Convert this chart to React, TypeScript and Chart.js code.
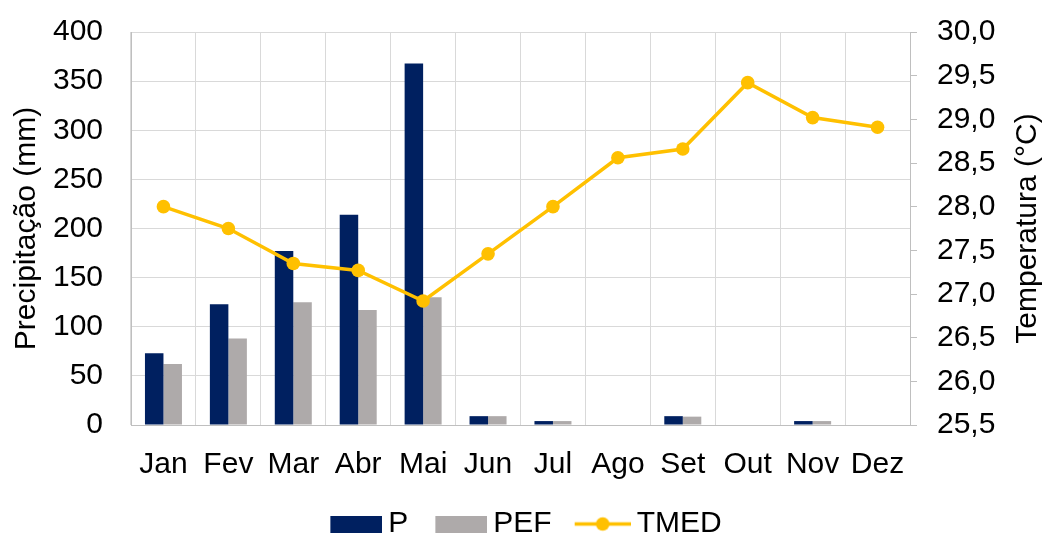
import React, { useEffect, useRef } from 'react';
import { Chart, registerables } from 'chart.js';

Chart.register(...registerables);

const months = ['Jan', 'Fev', 'Mar', 'Abr', 'Mai', 'Jun', 'Jul', 'Ago', 'Set', 'Out', 'Nov', 'Dez'];
const precipP = [73, 123, 177, 214, 368, 9, 4, 0, 9, 0, 4, 0];
const precipPEF = [62, 88, 125, 117, 130, 9, 4, 0, 8.5, 0, 4, 0];
const tmed = [28.0, 27.75, 27.35, 27.27, 26.92, 27.46, 28.0, 28.56, 28.66, 29.42, 29.02, 28.91];
const seriesNames = ['P', 'PEF', 'TMED'];
const leftTitle = 'Precipitação (mm)';
const rightTitle = 'Temperatura (°C)';

const NAVY = '#002060';
const GRAY = '#AEAAAA';
const GOLD = '#FFC000';
const FONT = "'Liberation Sans', Arial, sans-serif";

// legend image geometry: transparent left margin, then visible mark
const IMG_MARGIN = 33;
const IMG_W = 85;
const STYLE_W = 67;

function makeBoxImage(color: string): HTMLCanvasElement {
  const c = document.createElement('canvas');
  c.width = IMG_W;
  c.height = 17;
  const ctx = c.getContext('2d')!;
  ctx.fillStyle = color;
  ctx.fillRect(IMG_MARGIN, 0, IMG_W - IMG_MARGIN, 17);
  return c;
}

function makeLineImage(color: string): HTMLCanvasElement {
  const c = document.createElement('canvas');
  c.width = IMG_W;
  c.height = 17;
  const ctx = c.getContext('2d')!;
  ctx.strokeStyle = color;
  ctx.lineWidth = 3.5;
  ctx.beginPath();
  ctx.moveTo(IMG_MARGIN - 4, 8.5);
  ctx.lineTo(IMG_W, 8.5);
  ctx.stroke();
  ctx.fillStyle = color;
  ctx.beginPath();
  ctx.arc((IMG_MARGIN - 4 + IMG_W) / 2, 8.5, 6.8, 0, Math.PI * 2);
  ctx.fill();
  return c;
}

const layoutTweakPlugin = {
  id: 'layoutTweak',
  afterLayout(chart: any) {
    const lg = chart.legend;
    if (lg) {
      lg.top += 15;
      lg.bottom += 15;
      lg.left -= 9;
      lg.right -= 9;
    }
  },
  afterDraw(chart: any) {
    const { ctx, chartArea } = chart;
    ctx.save();
    ctx.translate(1028, (chartArea.top + chartArea.bottom) / 2);
    ctx.rotate(-Math.PI / 2);
    ctx.font = `30px ${FONT}`;
    ctx.fillStyle = '#000';
    ctx.textAlign = 'center';
    ctx.textBaseline = 'middle';
    ctx.fillText(rightTitle, 0, 0);
    ctx.restore();
  },
};

export default function App() {
  const canvasRef = useRef<HTMLCanvasElement | null>(null);

  useEffect(() => {
    if (!canvasRef.current) return;
    const images = [makeBoxImage(NAVY), makeBoxImage(GRAY), makeLineImage(GOLD)];
    const chart = new Chart(canvasRef.current, {
      type: 'bar',
      data: {
        labels: months,
        datasets: [
          {
            type: 'bar',
            label: seriesNames[0],
            data: precipP,
            backgroundColor: NAVY,
            yAxisID: 'y',
            order: 1,
            barPercentage: 1,
            categoryPercentage: 0.57,
          },
          {
            type: 'bar',
            label: seriesNames[1],
            data: precipPEF,
            backgroundColor: GRAY,
            yAxisID: 'y',
            order: 1,
            barPercentage: 1,
            categoryPercentage: 0.57,
          },
          {
            type: 'line',
            label: seriesNames[2],
            data: tmed,
            borderColor: GOLD,
            backgroundColor: GOLD,
            borderWidth: 3.5,
            pointRadius: 6.8,
            pointBackgroundColor: GOLD,
            pointBorderColor: GOLD,
            pointBorderWidth: 0,
            tension: 0,
            yAxisID: 'y1',
            order: 0,
          } as any,
        ],
      },
      plugins: [layoutTweakPlugin],
      options: {
        animation: false,
        responsive: false,
        maintainAspectRatio: false,
        layout: { padding: { left: 0, right: 0, top: 32, bottom: 0 } },
        font: { family: FONT, size: 30 },
        plugins: {
          tooltip: { enabled: false },
          legend: {
            position: 'bottom',
            labels: {
              usePointStyle: true,
              pointStyleWidth: STYLE_W,
              boxHeight: 17,
              padding: 3,
              color: '#000',
              font: { family: FONT, size: 30 },
              generateLabels: () =>
                seriesNames.map((name, i) => ({
                  text: name,
                  pointStyle: images[i] as any,
                  fillStyle: 'transparent',
                  strokeStyle: 'transparent',
                  lineWidth: 0,
                  hidden: false,
                  datasetIndex: i,
                  fontColor: '#000',
                })),
            },
          },
        },
        scales: {
          x: {
            grid: { offset: true, color: '#D9D9D9', lineWidth: 1, drawTicks: false },
            border: { color: '#BFBFBF', width: 1 },
            ticks: { color: '#000', font: { family: FONT, size: 30 }, padding: 22, maxRotation: 0, autoSkip: false },
            afterFit: (scale: any) => {
              scale.height = 66;
            },
          },
          y: {
            position: 'left',
            min: 0,
            max: 400,
            ticks: { stepSize: 50, color: '#000', font: { family: FONT, size: 30 }, padding: 28 },
            grid: { color: '#D9D9D9', lineWidth: 1, drawTicks: false },
            border: { color: '#BFBFBF', width: 1 },
            title: {
              display: true,
              text: leftTitle,
              color: '#000',
              font: { family: FONT, size: 30 },
              padding: { top: 9, bottom: 0 },
            },
            afterFit: (scale: any) => {
              scale.width = 131;
              scale.paddingTop = 0;
              scale.paddingBottom = 0;
            },
          },
          y1: {
            position: 'right',
            min: 25.5,
            max: 30,
            ticks: {
              stepSize: 0.5,
              color: '#000',
              font: { family: FONT, size: 30 },
              padding: 20,
              callback: (v: any) => Number(v).toFixed(1).replace('.', ','),
            },
            grid: { drawOnChartArea: false, drawTicks: true, tickLength: 7, color: '#BFBFBF' },
            border: { color: '#BFBFBF', width: 1 },
            afterFit: (scale: any) => {
              scale.width = 136;
              scale.paddingTop = 0;
              scale.paddingBottom = 0;
            },
          },
        },
      },
    });
    return () => chart.destroy();
  }, []);

  return (
    <div style={{ position: 'absolute', left: 0, top: 0, width: 1046, height: 534, background: '#fff' }}>
      <canvas ref={canvasRef} width={1046} height={534} style={{ display: 'block', width: 1046, height: 534 }} />
    </div>
  );
}
